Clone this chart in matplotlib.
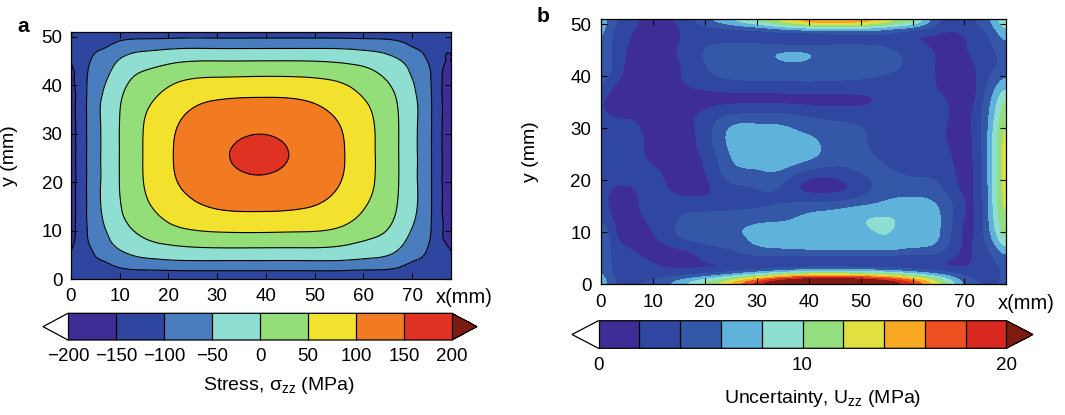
import matplotlib.pyplot as plt
import matplotlib.tri as mtri
import numpy as np
from matplotlib.colors import ListedColormap, BoundaryNorm

plt.rcParams['font.family'] = ['Liberation Sans', 'DejaVu Sans']
plt.rcParams['mathtext.fontset'] = 'custom'
plt.rcParams['mathtext.rm'] = 'Liberation Sans'
plt.rcParams['axes.linewidth'] = 0.9

# ---------------- (a) stress sigma_zz, MPa, sampled on a grid ----------------
xa = [0, 1.5, 3.5, 6, 10, 15, 21, 29, 38.6, 48.2, 56.2, 62.2, 67.2, 71.2, 73.7, 75.7, 78]
ya = [0, 1.6, 3.3, 5.8, 9.3, 14.3, 20.2, 25.75, 31.3, 37.2, 42.2, 45.7, 48.2, 49.9, 51]
stress = [
    [-138, -138, -137, -137, -136, -135, -135, -135, -135, -135, -135, -135, -136, -137, -137, -138, -138],
    [-140, -137, -125, -120, -113, -107, -105, -104, -104, -104, -105, -107, -113, -120, -125, -137, -140],
    [-145, -138, -118, -108, -86, -71, -64, -63, -63, -63, -64, -71, -86, -108, -118, -138, -145],
    [-150, -140, -112, -83, -53, -30, -18, -12, -12, -12, -18, -30, -53, -83, -112, -140, -150],
    [-152, -142, -97, -64, -26, 7, 31, 43, 45, 43, 31, 7, -26, -64, -97, -142, -152],
    [-154, -142, -92, -52, -5, 38, 71, 97, 103, 97, 71, 38, -5, -52, -92, -142, -154],
    [-155, -142, -92, -51, 1, 51, 95, 130, 144, 130, 95, 51, 1, -51, -92, -142, -155],
    [-155, -142, -92, -51, 1, 52, 100, 140, 158, 140, 100, 52, 1, -51, -92, -142, -155],
    [-155, -142, -92, -51, 1, 51, 95, 130, 144, 130, 95, 51, 1, -51, -92, -142, -155],
    [-154, -142, -92, -52, -5, 38, 71, 97, 103, 97, 71, 38, -5, -52, -92, -142, -154],
    [-152, -142, -97, -64, -26, 7, 31, 43, 45, 43, 31, 7, -26, -64, -97, -142, -152],
    [-150, -140, -112, -83, -53, -30, -18, -12, -12, -12, -18, -30, -53, -83, -112, -140, -150],
    [-145, -138, -118, -108, -86, -71, -64, -63, -63, -63, -64, -71, -86, -108, -118, -138, -145],
    [-140, -137, -125, -120, -113, -107, -105, -104, -104, -104, -105, -107, -113, -120, -125, -137, -140],
    [-138, -138, -137, -137, -136, -135, -135, -135, -135, -135, -135, -135, -136, -137, -137, -138, -138],
]
stress_levels = [-200, -150, -100, -50, 0, 50, 100, 150, 200]
stress_colors = ['#3f2d96', '#2f46a0', '#4a7dbd', '#8edfd2', '#94de7a', '#f2e22e', '#f27a20', '#e03222']

# ---------------- (b) uncertainty U_zz, MPa, sampled on a grid ----------------
xb = [0, 1, 2.5, 5, 9, 13, 17, 21, 25, 29, 33, 37, 41, 45, 49, 53, 57, 61, 65, 69, 72.5, 75, 76.7, 78]
yb = [0, 0.7, 1.6, 3.5, 6, 9, 12, 15, 18, 21, 24, 27, 30, 33, 36, 39, 41.5, 43.5, 45.5, 47.5, 49.3, 50.3, 51]
uncert = [
    [9.5, 6.5, 4.5, 3.5, 5.2, 7.5, 11, 14.5, 19, 23.5, 28, 31, 32, 32, 31, 29, 26, 21.5, 16, 8.5, 5, 3.8, 4.2, 4.8],
    [8, 6, 4.2, 3.2, 4, 5.5, 8, 10.5, 13.5, 17.5, 21.5, 24, 25, 25, 24.5, 23, 20.5, 17, 12, 6.5, 4, 3.6, 4, 4.6],
    [7, 5.5, 3.8, 2.8, 2.8, 3.2, 4, 5, 6.8, 9, 11.5, 13.5, 15, 15, 14.5, 13.5, 12, 9.5, 7, 4.5, 3, 3.4, 3.8, 4.4],
    [6.8, 5, 3.3, 2.8, 2.4, 1.8, 1.6, 1.6, 1.7, 1.8, 1.9, 2.0, 2.1, 2.1, 2.0, 1.9, 1.8, 1.8, 1.8, 1.6, 2.5, 3.4, 4, 4.6],
    [7, 5, 3.2, 2.4, 1.4, 1.2, 1.6, 2.9, 3.4, 4.5, 4.8, 4.9, 4.9, 4.9, 4.9, 4.9, 4.8, 4.5, 4.0, 1.8, 2.4, 3.8, 5.2, 7],
    [7, 5, 2.4, 1.4, 1.6, 3.0, 4.6, 5.0, 5.5, 6.3, 7.0, 7.1, 7.2, 7.3, 7.5, 7.9, 7.8, 7.3, 6.2, 2.2, 2.4, 5.6, 8.5, 11.5],
    [4.5, 3.2, 1.8, 1.2, 2.0, 3.2, 4.8, 5.2, 5.4, 5.8, 6.0, 6.2, 6.8, 7.2, 7.8, 8.3, 8.0, 7.4, 6.3, 2.5, 2.2, 6.5, 10, 13],
    [3.5, 2.2, 1.4, 1.2, 2.6, 3.1, 3.3, 3.2, 3.4, 3.6, 4.0, 4.6, 5.0, 5.3, 6.0, 6.5, 7.0, 6.9, 6.0, 2.8, 2.2, 6.8, 10.8, 13.6],
    [3.0, 2.2, 1.6, 1.5, 2.6, 2.0, 1.3, 1.8, 3.2, 3.6, 4.0, 2.4, 1.4, 1.5, 2.4, 4.4, 5.3, 5.3, 4.6, 2.0, 2.4, 6.9, 11, 13.8],
    [3.2, 3.2, 3.0, 2.8, 2.6, 1.7, 1.2, 2.4, 4.8, 5.2, 5.7, 4.0, 2.4, 2.4, 3.5, 4.4, 4.2, 3.8, 3.5, 1.6, 2.5, 7.0, 11, 13.8],
    [3.3, 3.3, 3.2, 3.0, 1.9, 1.3, 1.3, 2.8, 5.9, 6.9, 7.0, 6.8, 5.9, 4.8, 4.5, 4.1, 3.2, 2.9, 2.8, 1.5, 2.6, 7.0, 11, 13.8],
    [3.2, 3.3, 3.3, 3.2, 1.7, 1.2, 1.5, 3.6, 6.5, 7.3, 7.3, 7.0, 6.4, 5.0, 4.4, 3.6, 2.9, 2.7, 2.4, 1.4, 2.7, 7.0, 11, 13.8],
    [3.1, 3.2, 3.2, 3.0, 1.4, 1.2, 1.6, 3.6, 6.3, 6.6, 6.5, 6.0, 5.3, 4.7, 4.3, 3.5, 2.8, 2.6, 2.3, 1.4, 2.8, 6.8, 10.6, 13.4],
    [2.6, 2.0, 1.5, 1.3, 1.2, 1.2, 1.6, 2.6, 3.5, 3.9, 3.9, 3.6, 3.0, 2.8, 2.7, 2.8, 3.0, 3.0, 2.6, 1.4, 2.8, 6.3, 9.5, 12.5],
    [3.0, 1.8, 1.3, 1.2, 1.2, 1.2, 1.2, 1.3, 1.4, 1.4, 1.4, 1.4, 1.5, 1.5, 1.6, 2.0, 2.8, 2.8, 2.2, 1.2, 2.2, 5.6, 8, 11],
    [5.5, 3.5, 2.2, 1.3, 1.2, 1.3, 2.4, 3.3, 3.7, 3.9, 4.0, 4.0, 4.0, 3.9, 3.8, 3.5, 3.2, 3.0, 1.8, 1.2, 2.0, 4.5, 5.8, 7.2],
    [7, 5.2, 3.5, 1.5, 1.2, 1.4, 2.6, 4.1, 4.8, 5.0, 5.1, 5.2, 5.1, 5.0, 4.8, 4.5, 4.1, 3.2, 1.7, 1.2, 2.1, 3.6, 4.2, 5.5],
    [7, 5.2, 3.5, 1.7, 1.2, 1.5, 2.8, 4.5, 5.1, 5.4, 6.0, 6.6, 6.0, 5.3, 5.0, 4.7, 4.2, 3.2, 1.8, 1.3, 2.4, 3.4, 4, 5],
    [7, 5.2, 3.5, 1.9, 1.2, 1.6, 2.9, 4.3, 4.8, 5.0, 5.1, 5.1, 5.0, 4.8, 4.6, 4.3, 3.8, 2.8, 1.5, 1.4, 2.9, 3.6, 4.5, 6],
    [7.2, 5.2, 3.5, 2.2, 1.2, 1.3, 2.5, 3.0, 2.9, 2.6, 2.1, 1.5, 1.7, 2.4, 2.8, 3.0, 2.6, 1.7, 1.3, 1.5, 2.8, 4, 5.5, 7],
    [7.8, 5.6, 3.8, 2.5, 1.3, 1.4, 2.5, 3.2, 3.6, 4.2, 5.4, 6.6, 7.2, 7.4, 7.2, 6.6, 5.4, 4.2, 3.0, 2.6, 3.5, 5, 7, 9],
    [8.8, 6.0, 4.2, 3.0, 1.4, 1.5, 3.0, 5.2, 7.0, 9.0, 11, 13, 14.5, 15, 14.5, 13.2, 11.2, 8.8, 4.0, 3.0, 4.0, 5.8, 8, 10],
    [9.5, 6.5, 5.0, 3.5, 1.5, 1.6, 4.8, 8.0, 11, 13.5, 16, 19, 21, 21.5, 21, 19.5, 16.5, 13, 5.0, 3.2, 4.5, 6.5, 9, 11],
]
uncert_levels = [0, 2, 4, 6, 8, 10, 12, 14, 16, 18, 20]
uncert_colors = ['#3f2d96', '#2f47a0', '#3457a8', '#5fb2da', '#8edfd0',
                 '#94de80', '#e0e040', '#f8a822', '#ee5022', '#d82820']
over_color = '#7d1a12'


def smooth_field(xs, ys, values, nx=500, ny=330):
    # cubic interpolation over a triangulated version of the sample grid
    X, Y = np.meshgrid(xs, ys)
    ncol = len(xs)
    idx = np.arange(len(ys) * ncol).reshape(len(ys), ncol)
    a = idx[:-1, :-1].ravel()
    b = idx[:-1, 1:].ravel()
    c = idx[1:, 1:].ravel()
    d = idx[1:, :-1].ravel()
    tris = np.concatenate([np.column_stack([a, b, c]), np.column_stack([a, c, d])])
    tri = mtri.Triangulation(X.ravel(), Y.ravel(), tris)
    interp = mtri.CubicTriInterpolator(tri, np.asarray(values, float).ravel(), kind='min_E')
    eps = 1e-6
    xf = np.linspace(xs[0] + eps, xs[-1] - eps, nx)
    yf = np.linspace(ys[0] + eps, ys[-1] - eps, ny)
    Xf, Yf = np.meshgrid(xf, yf)
    Zf = interp(Xf, Yf)
    return Xf, Yf, np.ma.filled(Zf, np.nan)


def blur(Z, sigma):
    # separable gaussian, mirrored at the borders
    r = int(3 * sigma)
    k = np.exp(-0.5 * (np.arange(-r, r + 1) / sigma) ** 2)
    k /= k.sum()
    Zp = np.pad(Z, ((r, r), (0, 0)), mode='reflect')
    Z = np.apply_along_axis(lambda m: np.convolve(m, k, mode='valid'), 0, Zp)
    Zp = np.pad(Z, ((0, 0), (r, r)), mode='reflect')
    return np.apply_along_axis(lambda m: np.convolve(m, k, mode='valid'), 1, Zp)


def make_cmap(colors):
    cmap = ListedColormap(colors)
    cmap.set_under('white')
    cmap.set_over(over_color)
    return cmap


fig = plt.figure(figsize=(10.65, 4.15), dpi=100)
W, H = 1065, 415
ax_a = fig.add_axes([71 / W, 1 - 279.3 / H, 380 / W, 247.3 / H])
ax_b = fig.add_axes([601 / W, 1 - 284.3 / H, 405 / W, 265 / H])
cax_a = fig.add_axes([43 / W, 1 - 340 / H, 434 / W, 26.7 / H])
cax_b = fig.add_axes([572 / W, 1 - 348.3 / H, 461 / W, 27.6 / H])

# panel a
cmap_a = make_cmap(stress_colors)
norm_a = BoundaryNorm(stress_levels, cmap_a.N)
Xa, Ya, Za = smooth_field(xa, ya, stress)
Za = np.clip(Za, -199, 199)
cf_a = ax_a.contourf(Xa, Ya, Za, levels=stress_levels, cmap=cmap_a, norm=norm_a, extend='both')
ax_a.contour(Xa, Ya, Za, levels=stress_levels[1:-1], colors='k', linewidths=0.8,
             linestyles='solid')

# panel b
cmap_b = make_cmap(uncert_colors)
norm_b = BoundaryNorm(uncert_levels, cmap_b.N)
Xb, Yb, Zb = smooth_field(xb, yb, uncert)
Zb = np.clip(blur(Zb, 5.5), 0.2, 40)
cf_b = ax_b.contourf(Xb, Yb, Zb, levels=uncert_levels, cmap=cmap_b, norm=norm_b, extend='both')

for ax, pad in ((ax_a, 6), (ax_b, 7)):
    ax.set_xlim(0, 78)
    ax.set_ylim(0, 51)
    ax.set_xticks(range(0, 80, 10))
    ax.set_yticks(range(0, 60, 10))
    ax.tick_params(direction='in', top=True, right=True, length=4, width=0.8,
                   labelsize=13.5, pad=pad)
    ax.set_ylabel('y (mm)', fontsize=14)

ax_a.yaxis.set_label_coords(-0.139, 0.5)
ax_b.yaxis.set_label_coords(-0.153, 0.5)

ax_a.annotate('x(mm)', xy=(80.7, 0), xycoords=('data', 'axes fraction'),
              xytext=(0, -6), textcoords='offset points', ha='center', va='top',
              fontsize=14.5, annotation_clip=False)
ax_b.annotate('x(mm)', xy=(81.9, 0), xycoords=('data', 'axes fraction'),
              xytext=(0, -7), textcoords='offset points', ha='center', va='top',
              fontsize=14.5, annotation_clip=False)

# colour bars
cb_a = fig.colorbar(cf_a, cax=cax_a, orientation='horizontal', extendfrac=0.065,
                    drawedges=True, ticks=stress_levels)
cb_b = fig.colorbar(cf_b, cax=cax_b, orientation='horizontal', extendfrac=0.065,
                    drawedges=True, ticks=[0, 10, 20])
for cb in (cb_a, cb_b):
    cb.minorticks_off()
    cb.outline.set_linewidth(0.9)
    cb.dividers.set_color('k')
    cb.dividers.set_linewidth(0.9)
    cb.ax.tick_params(which='both', length=0, labelsize=13.5, pad=6)

cb_a.set_label(r'Stress, $\mathregular{\sigma_{zz}}$ (MPa)', fontsize=14)
cb_b.set_label(r'Uncertainty, $\mathregular{U_{zz}}$ (MPa)', fontsize=14)
cax_a.xaxis.set_label_coords(0.55, -1.3)
cax_b.xaxis.set_label_coords(0.55, -1.45)

fig.text(23 / W, 1 - 27 / H, 'a', fontsize=15, weight='bold', ha='center', va='center')
fig.text(543 / W, 1 - 17 / H, 'b', fontsize=15, weight='bold', ha='center', va='center')

fig.savefig('out.png', dpi=100)
